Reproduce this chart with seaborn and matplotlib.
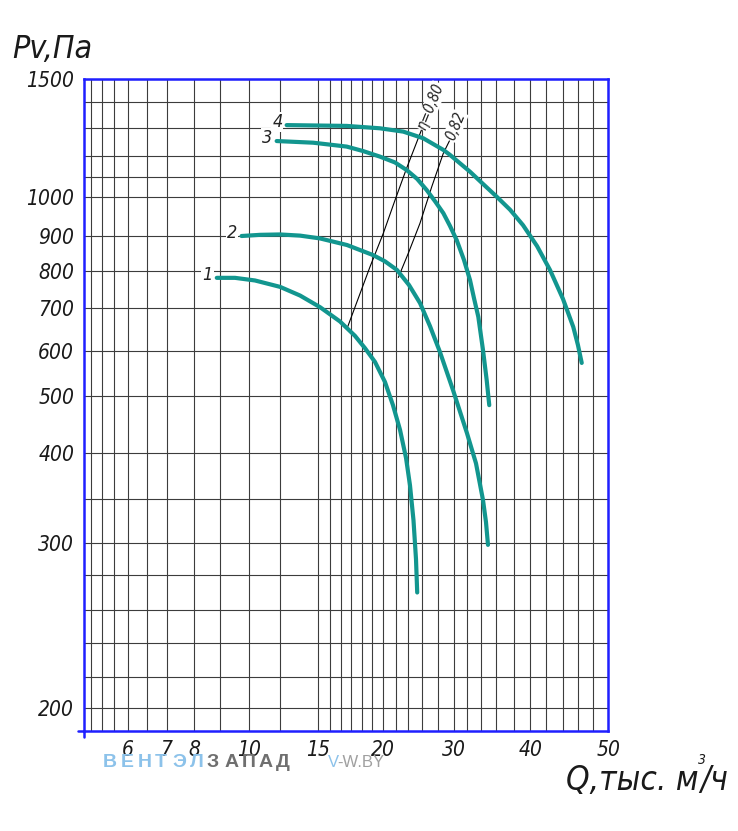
import numpy as np
import pandas as pd
import matplotlib
matplotlib.use("Agg")
import matplotlib.pyplot as plt
from matplotlib.lines import Line2D
import seaborn as sns

# fan curves: Q (thousand m3/h) vs Pv (Pa)
q1 = [8.86, 9.51, 10.49, 12.53, 13.83, 15.14, 16.59, 17.8, 18.58, 19.4, 20.31, 21.57, 22.69,
      23.65, 24.25, 24.74, 25.09, 25.26]
p1 = [781, 781, 774, 757, 734, 703, 669, 635, 606, 575, 531, 484, 441, 395, 365, 326, 290, 270]
q2 = [9.74, 10.9, 12.53, 13.83, 15.14, 17.17, 19.25, 20.31, 22.21, 24.11, 25.65, 26.97, 28.26,
      29.89, 32.0, 33.25, 34.22, 34.64, 34.92]
p2 = [900, 903, 904, 901, 893, 874, 845, 827, 802, 762, 714, 658, 597, 513, 435, 389, 349, 324, 299]
q3 = [12.26, 14.69, 17.14, 18.41, 19.77, 21.87, 23.76, 25.26, 26.55, 27.62, 28.68, 29.51, 30.43,
      31.54, 32.42, 32.97, 33.57, 34.22, 34.74, 35.1]
p3 = [1254, 1248, 1234, 1218, 1197, 1169, 1132, 1089, 1035, 990, 959, 926, 888, 831, 775, 727,
      680, 602, 535, 484]
q4 = [12.96, 17.14, 19.77, 23.22, 26.1, 28.68, 29.51, 32.42, 34.22, 36.11, 37.6, 39.12, 40.83,
      42.45, 44.06, 45.4, 46.01, 46.5]
p4 = [1312, 1309, 1300, 1288, 1264, 1222, 1204, 1124, 1065, 1003, 968, 928, 871, 802, 725, 656,
      613, 573]

# efficiency lines
eta80_q = [17.14, 19.0, 20.05, 21.9, 23.76, 25.9]
eta80_p = [650, 811, 907, 993, 1142, 1297]
eta82_q = [22.42, 24.01, 25.65, 27.2, 28.68, 29.5]
eta82_p = [782, 850, 933, 1051, 1210, 1258]

x_major = [6, 7, 8, 10, 15, 20, 30, 40, 50]
y_major = [200, 300, 400, 500, 600, 700, 800, 900, 1000, 1500]

# the chart paper is not a true log grid, so the scale follows its rulings
x_rule = [5, 5.25, 5.5, 5.75, 6, 6.5, 7, 8, 9, 10, 12.5, 15, 15.83, 16.67, 17.5, 18.33, 19.17,
          20, 22, 24, 26, 28, 30, 32, 34, 36, 38, 40, 42, 44, 46, 48, 50]
x_rule_px = [84, 91.4, 101.8, 113.6, 128, 147, 166.5, 194.5, 220.4, 249, 279.6, 318, 330, 341, 351,
             362, 372, 383, 395.7, 408.2, 422.5, 437.9, 453.9, 467, 481.4, 495.7, 513.6, 530.4,
             546.4, 562.5, 577.9, 593.2, 608.5]
y_rule = [186, 200, 220, 240, 260, 280, 300, 350, 400, 500, 600, 700, 800, 900, 1000,
          1100, 1200, 1300, 1400, 1500]
y_rule_px = [730.7, 708.3, 677.3, 643.3, 610, 575, 543.3, 499, 453.3, 396, 350.7, 308.3,
             270.7, 236, 197.3, 176.7, 156, 128.3, 101.7, 79]


def ruled_scale(vals, frac):
    vals = np.asarray(vals, float)
    frac = np.asarray(frac, float)

    def lin(v, a, b):
        v = np.asarray(v, float)
        out = np.interp(v, a, b)
        lo = (b[1] - b[0]) / (a[1] - a[0])
        hi = (b[-1] - b[-2]) / (a[-1] - a[-2])
        out = np.where(v < a[0], b[0] + (v - a[0]) * lo, out)
        out = np.where(v > a[-1], b[-1] + (v - a[-1]) * hi, out)
        return out

    return (lambda v: lin(v, vals, frac)), (lambda f: lin(f, frac, vals))


xpx = np.array(x_rule_px)
ypx = np.array(y_rule_px)
x_frac = (xpx - xpx[0]) / (xpx[-1] - xpx[0])
y_frac = (ypx[0] - ypx) / (ypx[0] - ypx[-1])

sns.set_theme(style="white")
plt.rcParams["font.family"] = ["DejaVu Sans"]
plt.rcParams["font.stretch"] = "condensed"

W, H = 738, 831
fig = plt.figure(figsize=(W / 100, H / 100), dpi=100)
ax = fig.add_axes([xpx[0] / W, 1 - ypx[0] / H, (xpx[-1] - xpx[0]) / W, (ypx[0] - ypx[-1]) / H])

curves = pd.concat([
    pd.DataFrame({"Q": q, "P": p, "curve": n})
    for n, (q, p) in enumerate([(q1, p1), (q2, p2), (q3, p3), (q4, p4)], start=1)
])
teal = "#12968f"
sns.lineplot(data=curves, x="Q", y="P", hue="curve", palette=[teal] * 4, estimator=None,
             sort=False, legend=False, lw=3.0, ax=ax, zorder=4)
sns.lineplot(x=eta80_q, y=eta80_p, color="black", lw=0.8, estimator=None, sort=False, ax=ax, zorder=3)
sns.lineplot(x=eta82_q, y=eta82_p, color="black", lw=0.8, estimator=None, sort=False, ax=ax, zorder=3)

ax.set_xscale("function", functions=ruled_scale(x_rule, x_frac))
ax.set_yscale("function", functions=ruled_scale(y_rule, y_frac))
ax.set_xlim(x_rule[0], x_rule[-1])
ax.set_ylim(y_rule[0], y_rule[-1])

ax.set_xticks(x_major)
ax.set_xticklabels([str(v) for v in x_major])
ax.set_xticks([v for v in x_rule[1:-1] if v not in x_major], minor=True)
ax.set_yticks(y_major)
ax.set_yticklabels([str(v) for v in y_major])
ax.set_yticks([v for v in y_rule[1:-1] if v not in y_major], minor=True)
ax.grid(which="both", color="#3c3c3c", lw=0.8)
ax.set_axisbelow(True)

blue = "#1f1fff"
ax.tick_params(which="major", direction="out", length=6, width=1.6, color=blue,
               labelsize=15, pad=1)
ax.tick_params(which="minor", length=0)
for lab in ax.get_xticklabels() + ax.get_yticklabels():
    lab.set_fontstyle("italic")
    lab.set_color("#1a1a1a")
for s in ax.spines.values():
    s.set_color(blue)
    s.set_linewidth(1.8)
ax.set_xlabel("")
ax.set_ylabel("")

# drafting-style overrun of the frame at the lower left corner
ax.add_line(Line2D([-0.012, 0], [0, 0], transform=ax.transAxes, color=blue, lw=1.8, clip_on=False))
ax.add_line(Line2D([0, 0], [-0.01, 0], transform=ax.transAxes, color=blue, lw=1.8, clip_on=False))

# curve numbers
for n, (q, p) in enumerate([(q1, p1), (q2, p2), (q3, p3), (q4, p4)], start=1):
    ax.annotate(str(n), (q[0], p[0]), xytext=(-3, 2), textcoords="offset points",
                ha="right", va="center", fontsize=13, style="italic", color="#222",
                bbox=dict(boxstyle="square,pad=0.05", fc="white", ec="none"), zorder=5)

# efficiency labels
for q, p, txt in [(eta80_q, eta80_p, "η=0,80"), (eta82_q, eta82_p, "0,82")]:
    ax.annotate(txt, (q[-1], p[-1]), xytext=(0, 0), textcoords="offset points",
                rotation=68, rotation_mode="anchor", ha="left", va="center",
                fontsize=10.5, style="italic", color="#222",
                bbox=dict(boxstyle="square,pad=0.05", fc="white", ec="none"), zorder=5)

# axis titles
fig.text(12 / W, 1 - 58 / H, "Pv,Па", fontsize=23, style="italic", color="#1a1a1a",
         ha="left", va="baseline")
fig.canvas.draw()
r = fig.canvas.get_renderer()
t1 = fig.text(566 / W, 1 - 790 / H, "Q,тыс. м", fontsize=24, style="italic", color="#1a1a1a",
              ha="left", va="baseline")
x_end = t1.get_window_extent(r).x1 / W
fig.text(x_end - 1 / W, 1 - 764 / H, "3", fontsize=10, style="italic", color="#1a1a1a",
         ha="left", va="baseline")
fig.text(x_end + 2 / W, 1 - 790 / H, "/ч", fontsize=24, style="italic", color="#1a1a1a",
         ha="left", va="baseline")

# watermark
for i, ch in enumerate("ВЕНТЭЛЗАПАД"):
    fig.text((103 + i * 17.3) / W, 1 - 767 / H, ch, fontsize=14, fontweight="bold",
             family="Liberation Sans", stretch="normal",
             color="#8cc2ea" if i < 6 else "#6f6f6f", ha="left", va="baseline")
fig.text(328 / W, 1 - 767 / H, "V", fontsize=12, family="Liberation Sans", color="#8cc2ea",
         ha="left", va="baseline")
fig.text(337 / W, 1 - 767 / H, "-W.BY", fontsize=12, family="Liberation Sans", color="#a0a0a0",
         ha="left", va="baseline")

fig.savefig("out.png", dpi=100, facecolor="white")
